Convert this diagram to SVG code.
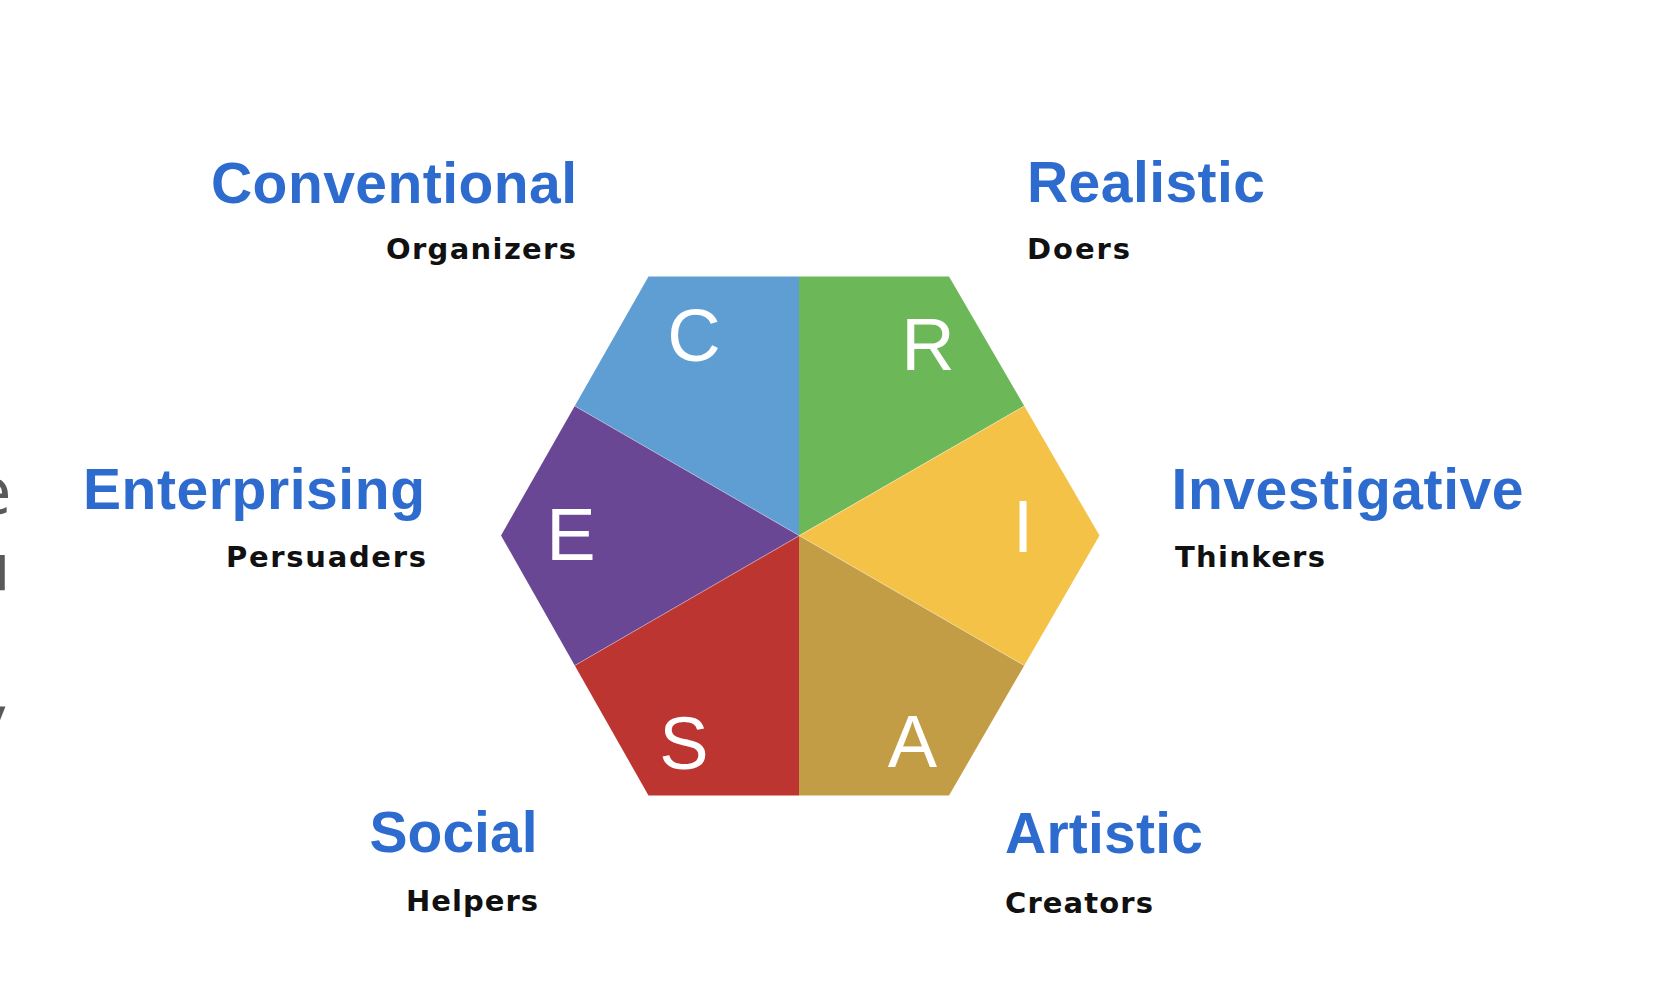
<svg xmlns="http://www.w3.org/2000/svg" width="1654" height="988" viewBox="0 0 1654 988">
  <style>
    .letter { font-family: "Liberation Sans", Arial, sans-serif; font-size: 74px; fill: #ffffff; text-anchor: middle; }
    .title { font-family: "Liberation Sans", Arial, sans-serif; font-weight: bold; font-size: 57px; fill: #2D6BCF; }
    .sub { font-family: "DejaVu Sans", "Liberation Sans", sans-serif; font-weight: bold; font-size: 29px; fill: #111111; }
    .frag { font-family: "DejaVu Sans", "Liberation Sans", sans-serif; font-size: 64px; fill: #595959; }
    .seam { stroke: #ffffff; stroke-width: 0.8; stroke-opacity: 0.45; fill: none; }
  </style>
  <rect x="0" y="0" width="1654" height="988" fill="#ffffff"/>

  <g id="edge-fragments">
    <text class="frag" x="-28" y="514">e</text>
    <text class="frag" x="-30" y="590">u</text>
    <text class="frag" x="-30.5" y="742">y</text>
  </g>

  <g id="node-C">
    <polygon points="799,535.5 574.75,406 648.5,276.5 799,276.5" fill="#5F9ED3"/>
    <text class="letter" x="694" y="360.5">C</text>
  </g>
  <g id="node-R">
    <polygon points="799,535.5 799,276.5 949,276.5 1024.25,406" fill="#6CB757"/>
    <text class="letter" x="928" y="370">R</text>
  </g>
  <g id="node-I">
    <polygon points="799,535.5 1024.25,406 1099.5,535.5 1024.25,665.5" fill="#F3C247"/>
    <text class="letter" x="1023" y="552">I</text>
  </g>
  <g id="node-A">
    <polygon points="799,535.5 1024.25,665.5 949,795.5 799,795.5" fill="#C39D45"/>
    <text class="letter" x="912.5" y="766.5">A</text>
  </g>
  <g id="node-S">
    <polygon points="799,535.5 799,795.5 648.5,795.5 574.75,665.5" fill="#BC3530"/>
    <text class="letter" x="684" y="769">S</text>
  </g>
  <g id="node-E">
    <polygon points="799,535.5 574.75,665.5 501,535.5 574.75,406" fill="#6A4795"/>
    <text class="letter" x="571" y="560">E</text>
  </g>

  <g id="connectors">
    <line class="seam" x1="574.75" y1="406" x2="1024.25" y2="665.5"/>
    <line class="seam" x1="1024.25" y1="406" x2="574.75" y2="665.5"/>
  </g>

  <g id="label-conventional">
    <text class="title" x="211" y="202.5" textLength="366">Conventional</text>
    <text class="sub" x="386" y="259" textLength="190">Organizers</text>
  </g>
  <g id="label-realistic">
    <text class="title" x="1027" y="202" textLength="238">Realistic</text>
    <text class="sub" x="1027" y="259" textLength="103">Doers</text>
  </g>
  <g id="label-enterprising">
    <text class="title" x="83" y="508.5" textLength="342">Enterprising</text>
    <text class="sub" x="226" y="566.5" textLength="200">Persuaders</text>
  </g>
  <g id="label-investigative">
    <text class="title" x="1171.5" y="508.5" textLength="352">Investigative</text>
    <text class="sub" x="1175" y="566.5" textLength="150">Thinkers</text>
  </g>
  <g id="label-social">
    <text class="title" x="369.5" y="851.5" textLength="168">Social</text>
    <text class="sub" x="406" y="911" textLength="132">Helpers</text>
  </g>
  <g id="label-artistic">
    <text class="title" x="1005" y="853" textLength="198">Artistic</text>
    <text class="sub" x="1005" y="913" textLength="148">Creators</text>
  </g>
</svg>
